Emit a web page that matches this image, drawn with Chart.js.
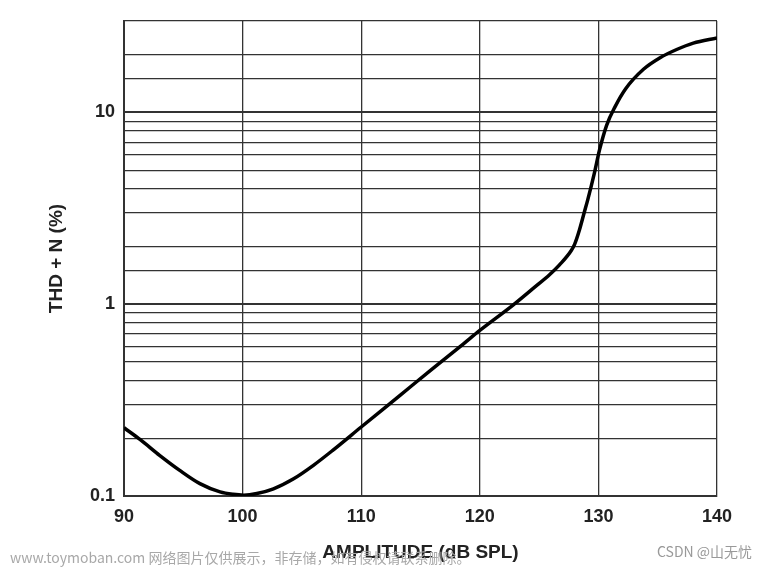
<!DOCTYPE html>
<html>
<head>
<meta charset="utf-8">
<script src="https://cdn.jsdelivr.net/npm/chart.js@4.4.0/dist/chart.umd.min.js"></script>
<style>
    body { margin: 0; background: #fff; }
    #wrap { position: relative; width: 771px; height: 567px; }
    .mark { position: absolute; font-family: "Noto Sans CJK SC", "Liberation Sans", sans-serif; font-size: 14px; color: #a8a8a8; white-space: nowrap; }
</style>
</head>
<body>
<div id="wrap">
    <canvas id="thdChart"></canvas>
    <div class="mark" style="left:10px; top:547px;">www.toymoban.com 网络图片仅供展示，非存储，如有侵权请联系删除。</div>
    <div class="mark" style="left:657px; top:541px; color:#999;">CSDN @山无忧</div>
</div>
<script>
// 곡선 데이터
const amplitude = [90, 91.4, 93, 94.7, 96.4, 98.1, 99.2, 100.1, 101.2, 102.6, 104.3, 106, 107.6, 110, 113.3, 116, 118.6, 120, 122.8, 124.5, 125.9, 126.7, 127.7, 128.0, 128.4, 128.8, 129.1, 129.65, 130.1, 130.7, 131.4, 132.3, 133.8, 135.2, 136.6, 138, 140];
const thdN = [0.227, 0.196, 0.163, 0.136, 0.116, 0.105, 0.102, 0.101, 0.103, 0.109, 0.123, 0.145, 0.173, 0.229, 0.336, 0.46, 0.62, 0.73, 0.99, 1.21, 1.43, 1.6, 1.9, 2.06, 2.44, 3.0, 3.5, 4.8, 6.4, 8.6, 10.7, 13.3, 16.8, 19.3, 21.3, 23.0, 24.5];
const xTicks = [90, 100, 110, 120, 130, 140];
const yLabelled = [0.1, 1, 10];

const gridColor = '#333';
const labelFont = { family: '"Liberation Sans", Arial, sans-serif', size: 18, weight: 'bold' };
const titleFont = { family: '"Liberation Sans", Arial, sans-serif', size: 19, weight: 'bold' };

function isDecade(v) {
    return yLabelled.some(d => Math.abs(d - v) < 1e-9);
}

const points = amplitude.map((x, i) => ({ x: x, y: thdN[i] }));

const ctx = document.getElementById('thdChart').getContext('2d');
new Chart(ctx, {
    type: 'scatter',
    data: {
        datasets: [{
            data: points,
            showLine: true,
            borderColor: '#000',
            borderWidth: 3.5,
            pointRadius: 0,
            cubicInterpolationMode: 'monotone'
        }]
    },
    options: {
        responsive: true,
        maintainAspectRatio: false,
        animation: false,
        layout: { padding: { top: 21, right: 54, left: 0, bottom: 0 } },
        plugins: { legend: { display: false }, tooltip: { enabled: false } },
        scales: {
            x: {
                type: 'linear',
                min: 90,
                max: 140,
                afterBuildTicks: (scale) => { scale.ticks = xTicks.map(v => ({ value: v })); },
                afterFit: (scale) => { scale.height = 71; },
                ticks: { color: '#222', font: labelFont, padding: 10, maxRotation: 0 },
                grid: { color: gridColor, lineWidth: 1.3, drawTicks: false },
                border: { color: gridColor, width: 2 },
                title: { display: true, text: 'AMPLITUDE (dB SPL)', color: '#222', font: titleFont, padding: { top: 0, bottom: 3 } }
            },
            y: {
                type: 'logarithmic',
                min: 0.1,
                max: 30,
                afterFit: (scale) => { scale.width = 124; },
                ticks: {
                    autoSkip: false,
                    color: '#222',
                    font: labelFont,
                    padding: 9,
                    callback: (v) => isDecade(v) ? String(v) : ''
                },
                grid: {
                    color: gridColor,
                    drawTicks: false,
                    lineWidth: (c) => (c.tick && isDecade(c.tick.value)) ? 2 : 1.3
                },
                border: { color: gridColor, width: 2 },
                title: { display: true, text: 'THD + N (%)', color: '#222', font: titleFont, padding: { top: 45, bottom: 0 } }
            }
        }
    }
});
</script>
</body>
</html>
